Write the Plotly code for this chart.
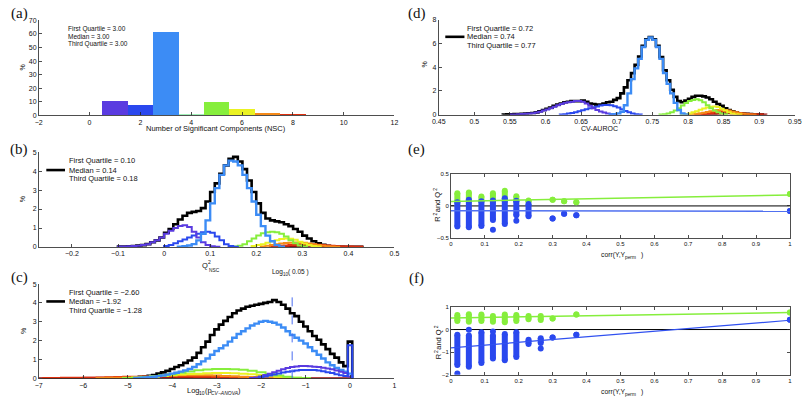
import math
import plotly.graph_objects as go

W, H = 810, 403

# ---------------- DATA ----------------
# (a) NSC histogram
a_nsc = [0, 1, 2, 3, 4, 5, 6, 7, 8, 9, 10, 11]
a_pct = [0.3, 10.9, 7.5, 61.5, 1.0, 10.1, 4.6, 1.8, 1.1, 0.35, 0.25, 0.1]

# (b) Q2_NSC histograms (bin width 0.01, start = left edge of first bin)
b_w = 0.01
b_black_start = -0.10
b_black = [0.02, 0.03, 0.04, 0.05, 0.07, 0.1, 0.15, 0.25, 0.35, 0.5, 0.75, 0.95, 1.2, 1.45, 1.65, 1.8,
           1.85, 1.9, 2.05, 2.4, 2.9, 3.35, 3.85, 4.3, 4.65, 4.75, 4.5, 4.1, 3.5, 2.9, 2.3, 1.8, 1.5, 1.4,
           1.35, 1.3, 1.2, 1.1, 0.95, 0.8, 0.6, 0.45, 0.3, 0.2, 0.12, 0.06, 0.03, 0.02, 0.01, 0.01, 0.01,
           0.01, 0.01]
b_sky_start = 0.03
b_sky = [0.02, 0.04, 0.08, 0.15, 0.35, 0.7, 1.4, 2.3, 3.1, 3.8, 4.3, 4.55, 4.5, 4.3, 3.8, 3.1, 2.4, 1.7,
         1.1, 0.6, 0.3, 0.1, 0.02]
b_purple_start = -0.10
b_purple = [0.02, 0.03, 0.04, 0.05, 0.07, 0.1, 0.15, 0.25, 0.35, 0.5, 0.7, 0.85, 1.0, 1.1, 1.15, 1.05,
            0.8, 0.5, 0.25, 0.1, 0.04, 0.01]
b_blue_start = 0.00
b_blue = [0.05, 0.1, 0.2, 0.3, 0.4, 0.5, 0.6, 0.7, 0.78, 0.8, 0.75, 0.55, 0.35, 0.15, 0.05, 0.01]
b_green_start = 0.15
b_green = [0.03, 0.07, 0.15, 0.3, 0.45, 0.6, 0.72, 0.78, 0.8, 0.78, 0.7, 0.55, 0.35, 0.2, 0.08, 0.03]
b_yellow_start = 0.19
b_yellow = [0.05, 0.1, 0.15, 0.22, 0.3, 0.36, 0.42, 0.45, 0.44, 0.38, 0.28, 0.18, 0.1, 0.05, 0.02]
b_orange_start = 0.21
b_orange = [0.03, 0.06, 0.1, 0.14, 0.18, 0.21, 0.23, 0.24, 0.24, 0.22, 0.19, 0.15, 0.11, 0.07, 0.04,
            0.02, 0.01]
b_red_start = 0.23
b_red = [0.02, 0.04, 0.06, 0.08, 0.1, 0.12, 0.14, 0.15, 0.15, 0.14, 0.12, 0.1, 0.08, 0.06, 0.04, 0.03,
         0.02, 0.02, 0.01, 0.01]
b_dred_start = 0.26
b_dred = [0.02, 0.03, 0.04, 0.05, 0.06, 0.07, 0.07, 0.06, 0.05, 0.04, 0.03, 0.02, 0.02, 0.01, 0.01, 0.01,
          0.01]

# (c) log10 p CV-ANOVA histograms
c_w = 0.1
c_black_start = -5.05
c_black = [0.02, 0.04, 0.06, 0.08, 0.1, 0.14, 0.18, 0.25, 0.32, 0.4, 0.5, 0.6, 0.7, 0.82, 0.95, 1.1, 1.35,
           1.65, 1.95, 2.3, 2.6, 2.85, 3.05, 3.25, 3.45, 3.6, 3.7, 3.8, 3.85, 3.9, 3.95, 4.0, 4.05, 4.15,
           4.05, 3.9, 3.7, 3.45, 3.3, 3.0, 2.75, 2.5, 2.25, 2.05, 1.8, 1.55, 1.3, 1.1, 0.85, 0.65, 1.95]
c_sky_start = -4.85
c_sky = [0.02, 0.03, 0.05, 0.07, 0.09, 0.12, 0.15, 0.2, 0.25, 0.3, 0.36, 0.42, 0.5, 0.6, 0.75, 0.9, 1.05,
         1.25, 1.45, 1.6, 1.75, 1.95, 2.15, 2.35, 2.5, 2.65, 2.8, 2.9, 3.0, 3.05, 3.0, 2.95, 2.85, 2.7, 2.5,
         2.3, 2.15, 2.0, 1.85, 1.65, 1.45, 1.25, 1.05, 0.85, 0.7, 0.55, 0.45, 0.35, 0.25]
c_purple_start = -2.25
c_purple = [0.02, 0.05, 0.1, 0.18, 0.25, 0.32, 0.4, 0.48, 0.55, 0.6, 0.63, 0.65, 0.65, 0.64, 0.62, 0.6,
            0.57, 0.53, 0.48, 0.42, 0.35, 0.28, 0.1]
c_blue_start = -2.05
c_blue = [0.05, 0.1, 0.15, 0.2, 0.26, 0.31, 0.35, 0.38, 0.42, 0.44, 0.45, 0.45, 0.44, 0.42, 0.38, 0.33,
          0.28, 0.22, 0.17, 0.12, 1.75]
c_w2 = 0.2
c_green_start = -5.1
c_green = [0.02, 0.04, 0.07, 0.11, 0.16, 0.22, 0.3, 0.37, 0.43, 0.47, 0.5, 0.5, 0.49, 0.46, 0.4, 0.32,
           0.23, 0.15, 0.08, 0.04, 0.02]
c_yellow_start = -5.1
c_yellow = [0.02, 0.04, 0.06, 0.09, 0.12, 0.16, 0.2, 0.23, 0.25, 0.27, 0.28, 0.28, 0.27, 0.25, 0.22, 0.18,
            0.13, 0.08, 0.05, 0.03, 0.01]
c_orange_start = -5.7
c_orange = [0.02, 0.03, 0.04, 0.05, 0.07, 0.09, 0.11, 0.13, 0.15, 0.16, 0.17, 0.17, 0.16, 0.15, 0.13,
            0.11, 0.09, 0.07, 0.05, 0.03, 0.02, 0.01]
c_red_start = -6.9
c_red = [0.02, 0.02, 0.03, 0.03, 0.04, 0.04, 0.05, 0.06, 0.07, 0.08, 0.09, 0.1, 0.1, 0.11, 0.11, 0.1,
         0.1, 0.09, 0.08, 0.07, 0.06, 0.05, 0.04, 0.03, 0.02, 0.02, 0.01, 0.01, 0.01]
c_dred_start = -7.0
c_dred = [0.01, 0.01, 0.02, 0.02, 0.02, 0.03, 0.03, 0.03, 0.04, 0.04, 0.04, 0.05, 0.05, 0.05, 0.05, 0.05,
          0.05, 0.05, 0.05, 0.04, 0.04, 0.04, 0.03, 0.03, 0.03, 0.02, 0.02, 0.02, 0.02, 0.01, 0.01, 0.01,
          0.01, 0.01, 0.01]
c_alpha = 0.05

# (d) CV-AUROC histograms (bin width 0.005)
d_w = 0.005
d_black_start = 0.540
d_black = [0.02, 0.03, 0.04, 0.05, 0.06, 0.08, 0.1, 0.12, 0.15, 0.2, 0.3, 0.4, 0.5, 0.6, 0.75, 0.85, 0.95,
           1.05, 1.1, 1.15, 1.15, 1.15, 1.2, 1.1, 0.95, 0.9, 0.85, 0.85, 0.95, 1.05, 1.1, 1.25, 1.4, 1.8,
           2.3, 2.9, 3.5, 4.2, 4.9, 5.8, 6.35, 6.55, 6.35, 5.8, 4.85, 3.75, 2.9, 2.1, 1.5, 1.15, 1.05, 1.2,
           1.35, 1.5, 1.6, 1.6, 1.55, 1.45, 1.3, 1.1, 0.9, 0.75, 0.55, 0.4, 0.28, 0.2, 0.13, 0.1, 0.07,
           0.05, 0.03, 0.02, 0.01]
d_sky_start = 0.690
d_sky = [0.02, 0.05, 0.1, 0.25, 0.8, 1.8, 3.0, 3.9, 4.7, 5.7, 6.3, 6.5, 6.3, 5.7, 4.7, 3.5, 2.6, 1.8, 1.0,
         0.4, 0.1, 0.02]
d_purple_start = 0.550
d_purple = [0.02, 0.03, 0.04, 0.06, 0.08, 0.1, 0.13, 0.18, 0.25, 0.35, 0.45, 0.55, 0.68, 0.8, 0.9, 1.0,
            1.05, 1.1, 1.15, 1.15, 1.1, 0.95, 0.75, 0.55, 0.4, 0.28, 0.18, 0.1, 0.05, 0.02]
d_blue_start = 0.620
d_blue = [0.02, 0.05, 0.1, 0.15, 0.22, 0.3, 0.38, 0.46, 0.55, 0.63, 0.7, 0.77, 0.82, 0.82, 0.8, 0.72, 0.6,
          0.46, 0.32, 0.2, 0.11, 0.05, 0.02]
d_green_start = 0.760
d_green = [0.02, 0.05, 0.1, 0.2, 0.35, 0.55, 0.78, 0.98, 1.15, 1.25, 1.3, 1.22, 1.05, 0.8, 0.55, 0.35, 0.2,
           0.1, 0.04]
d_yellow_start = 0.790
d_yellow = [0.02, 0.05, 0.1, 0.2, 0.3, 0.42, 0.52, 0.6, 0.68, 0.7, 0.65, 0.5, 0.35, 0.2, 0.1, 0.04, 0.02]
d_orange_start = 0.800
d_orange = [0.02, 0.05, 0.08, 0.12, 0.17, 0.23, 0.3, 0.36, 0.4, 0.42, 0.4, 0.35, 0.28, 0.2, 0.13, 0.08,
            0.04, 0.02, 0.01]
d_red_start = 0.810
d_red = [0.02, 0.04, 0.07, 0.1, 0.14, 0.18, 0.22, 0.25, 0.27, 0.26, 0.23, 0.19, 0.15, 0.11, 0.08, 0.05,
         0.03, 0.02, 0.01]
d_dred_start = 0.820
d_dred = [0.02, 0.03, 0.05, 0.07, 0.09, 0.11, 0.12, 0.12, 0.11, 0.1, 0.08, 0.06, 0.05, 0.04, 0.03, 0.02,
          0.01, 0.01]

# (e) permutation test, R2 (green) and Q2 (blue) columns
e_x = [0.019, 0.053, 0.09, 0.124, 0.159, 0.193, 0.229, 0.30, 0.334, 0.37, 1.0]
e_r2_lo = [0.074, 0.074, 0.074, 0.074, 0.074, 0.074, 0.06, 0.094, 0.074, 0.058, 0.185]
e_r2_hi = [0.195, 0.21, 0.145, 0.195, 0.236, 0.15, 0.084, 0.094, 0.074, 0.058, 0.185]
e_q2_lo = [-0.32, -0.33, -0.31, -0.22, -0.28, -0.145, -0.16, -0.195, -0.12, -0.145, -0.08]
e_q2_hi = [0.058, 0.094, 0.074, 0.084, 0.12, 0.08, 0.03, -0.195, -0.12, -0.145, -0.08]
e_q2_out_x = [0.124, 0.193]
e_q2_out_y = [-0.37, -0.23]
e_fit_x = [0.0, 1.0]
e_r2_fit = [0.07, 0.17]
e_q2_fit = [-0.075, -0.082]

# (f)
f_x = [0.019, 0.053, 0.09, 0.124, 0.159, 0.193, 0.229, 0.265, 0.30, 0.37, 1.0]
f_r2_lo = [0.38, 0.35, 0.38, 0.35, 0.32, 0.38, 0.45, 0.42, 0.49, 0.67, 0.75]
f_r2_hi = [0.64, 0.68, 0.67, 0.6, 0.67, 0.64, 0.6, 0.6, 0.49, 0.67, 0.75]
f_q2_lo = [-1.57, -1.65, -1.48, -1.28, -1.36, -1.22, -0.64, -0.6, -0.35, -0.23, 0.43]
f_q2_hi = [-0.23, -0.26, -0.12, -0.26, -0.2, -0.12, -0.45, -0.38, -0.35, -0.23, 0.43]
f_q2_out_x = [0.019, 0.053, 0.124, 0.265]
f_q2_out_y = [-1.94, -0.01, -0.09, -0.84]
f_fit_x = [0.0, 1.0]
f_r2_fit = [0.51, 0.75]
f_q2_fit = [-0.81, 0.41]

# ---------------- STYLE ----------------
C_PURPLE = "#5a3be0"
C_BLUE = "#2a48ee"
C_SKY = "#3c8cf5"
C_PALE = "#a0f0b8"
C_GREEN = "#86ee3c"
C_YELLOW = "#eaf222"
C_ORANGE = "#f58a18"
C_RED = "#e0300e"
C_DRED = "#9a0c0c"
a_colors = ["#f0a040", C_PURPLE, C_BLUE, C_SKY, C_PALE, C_GREEN, C_YELLOW, C_ORANGE, C_RED, C_DRED,
            "#d07060", "#c0a040"]
FONT = "Liberation Sans, Arial, Helvetica, sans-serif"
SERIF = "Liberation Serif, Times New Roman, serif"


def stairs(start, width, vals):
    n = len(vals)
    xs = [start] + [start + i * width for i in range(n)] + [start + n * width]
    ys = [0] + list(vals) + [0]
    return xs, ys


fig = go.Figure()


def add_stairs(start, width, vals, color, lw, xa, ya):
    xs, ys = stairs(start, width, vals)
    fig.add_trace(go.Scatter(x=xs, y=ys, mode="lines", line=dict(color=color, width=lw, shape="hv"),
                             xaxis=xa, yaxis=ya, hoverinfo="skip"))


# (a)
fig.add_trace(go.Bar(x=a_nsc, y=a_pct, width=1, marker=dict(color=a_colors, line=dict(width=0)),
                     xaxis="x", yaxis="y"))

# (b)
add_stairs(b_black_start, b_w, b_black, "black", 2.6, "x2", "y2")
add_stairs(b_dred_start, b_w, b_dred, C_DRED, 2, "x2", "y2")
add_stairs(b_red_start, b_w, b_red, C_RED, 2, "x2", "y2")
add_stairs(b_orange_start, b_w, b_orange, C_ORANGE, 2, "x2", "y2")
add_stairs(b_yellow_start, b_w, b_yellow, C_YELLOW, 2, "x2", "y2")
add_stairs(b_green_start, b_w, b_green, C_GREEN, 2, "x2", "y2")
add_stairs(b_blue_start, b_w, b_blue, C_BLUE, 2, "x2", "y2")
add_stairs(b_purple_start, b_w, b_purple, C_PURPLE, 2, "x2", "y2")
add_stairs(b_sky_start, b_w, b_sky, C_SKY, 2.4, "x2", "y2")

# (c)
add_stairs(c_black_start, c_w, c_black, "black", 2.6, "x3", "y3")
add_stairs(c_dred_start, c_w2, c_dred, C_DRED, 2, "x3", "y3")
add_stairs(c_red_start, c_w2, c_red, C_RED, 2, "x3", "y3")
add_stairs(c_orange_start, c_w2, c_orange, C_ORANGE, 2, "x3", "y3")
add_stairs(c_yellow_start, c_w2, c_yellow, C_YELLOW, 2, "x3", "y3")
add_stairs(c_green_start, c_w2, c_green, C_GREEN, 2, "x3", "y3")
add_stairs(c_sky_start, c_w, c_sky, C_SKY, 2.4, "x3", "y3")
add_stairs(c_purple_start, c_w, c_purple, C_PURPLE, 2, "x3", "y3")
add_stairs(c_blue_start, c_w, c_blue, C_BLUE, 2, "x3", "y3")
c_thr = math.log10(c_alpha)
fig.add_trace(go.Scatter(x=[c_thr, c_thr], y=[0, 4.75], mode="lines",
                         line=dict(color="#4a6cf0", width=1, dash="dash"), xaxis="x3", yaxis="y3"))

# (d)
add_stairs(d_black_start, d_w, d_black, "black", 2.6, "x4", "y4")
add_stairs(d_dred_start, d_w, d_dred, C_DRED, 2, "x4", "y4")
add_stairs(d_red_start, d_w, d_red, C_RED, 2, "x4", "y4")
add_stairs(d_orange_start, d_w, d_orange, C_ORANGE, 2, "x4", "y4")
add_stairs(d_yellow_start, d_w, d_yellow, C_YELLOW, 2, "x4", "y4")
add_stairs(d_green_start, d_w, d_green, C_GREEN, 2, "x4", "y4")
add_stairs(d_blue_start, d_w, d_blue, C_BLUE, 2, "x4", "y4")
add_stairs(d_purple_start, d_w, d_purple, C_PURPLE, 2, "x4", "y4")
add_stairs(d_sky_start, d_w, d_sky, C_SKY, 2.4, "x4", "y4")


def add_columns(xs, lo, hi, color, xa, ya):
    X, Y = [], []
    for x, a, b in zip(xs, lo, hi):
        X += [x, x, None]
        Y += [a, b, None]
    fig.add_trace(go.Scatter(x=X, y=Y, mode="lines", line=dict(color=color, width=6),
                             xaxis=xa, yaxis=ya, hoverinfo="skip"))
    fig.add_trace(go.Scatter(x=list(xs) + list(xs), y=list(lo) + list(hi), mode="markers",
                             marker=dict(color=color, size=6, line=dict(width=0)), xaxis=xa, yaxis=ya))


# (e)
fig.add_trace(go.Scatter(x=e_fit_x, y=[0, 0], mode="lines", line=dict(color="black", width=1),
                         xaxis="x5", yaxis="y5"))
add_columns(e_x, e_r2_lo, e_r2_hi, C_GREEN, "x5", "y5")
add_columns(e_x, e_q2_lo, e_q2_hi, C_BLUE, "x5", "y5")
fig.add_trace(go.Scatter(x=e_q2_out_x, y=e_q2_out_y, mode="markers", marker=dict(color=C_BLUE, size=6),
                         xaxis="x5", yaxis="y5"))
fig.add_trace(go.Scatter(x=e_fit_x, y=e_r2_fit, mode="lines", line=dict(color=C_GREEN, width=1.5),
                         xaxis="x5", yaxis="y5"))
fig.add_trace(go.Scatter(x=e_fit_x, y=e_q2_fit, mode="lines", line=dict(color="#5070f0", width=1.5),
                         xaxis="x5", yaxis="y5"))

# (f)
fig.add_trace(go.Scatter(x=f_fit_x, y=[0, 0], mode="lines", line=dict(color="black", width=1),
                         xaxis="x6", yaxis="y6"))
add_columns(f_x, f_r2_lo, f_r2_hi, C_GREEN, "x6", "y6")
add_columns(f_x, f_q2_lo, f_q2_hi, C_BLUE, "x6", "y6")
fig.add_trace(go.Scatter(x=f_q2_out_x, y=f_q2_out_y, mode="markers", marker=dict(color=C_BLUE, size=6),
                         xaxis="x6", yaxis="y6"))
fig.add_trace(go.Scatter(x=f_fit_x, y=f_r2_fit, mode="lines", line=dict(color=C_GREEN, width=1.5),
                         xaxis="x6", yaxis="y6"))
fig.add_trace(go.Scatter(x=f_fit_x, y=f_q2_fit, mode="lines", line=dict(color="#3050f0", width=1.2),
                         xaxis="x6", yaxis="y6"))


# ---------------- LAYOUT ----------------
def px_x(p):
    return p / W


def px_y(p):
    return 1 - p / H


def axis(dom, rng, dtick, anchor, mirror=False, fs=7, tick0=0):
    return dict(domain=dom, range=rng, dtick=dtick, tick0=tick0, anchor=anchor, showline=True,
                linecolor="#222", linewidth=0.8, ticks="inside", ticklen=3, tickwidth=0.8,
                tickcolor="#222", showgrid=False, zeroline=False, mirror=("ticks" if mirror else False),
                tickfont=dict(size=fs, color="#111", family=FONT), fixedrange=True,
                ticklabeloverflow="allow")


L_X = [px_x(32.3), px_x(394.3)]
R_X = [px_x(439.3), px_x(801.7)]
E_X = [px_x(451.7), px_x(796.7)]

layout = dict(
    width=W, height=H, margin=dict(l=0, r=0, t=0, b=0), paper_bgcolor="white", plot_bgcolor="white",
    showlegend=False, font=dict(family=FONT, color="#111"), bargap=0, hovermode=False,
    xaxis=axis(L_X, [-2, 12], 2, "y"),
    yaxis=axis([px_y(113.3), px_y(16.7)], [0, 70], 10, "x"),
    xaxis2=axis(L_X, [-0.272, 0.5], 0.1, "y2"),
    yaxis2=axis([px_y(247.3), px_y(150.7)], [0, 5], 1, "x2"),
    xaxis3=axis(L_X, [-7, 1], 1, "y3"),
    yaxis3=axis([px_y(381), px_y(285)], [0, 5], 1, "x3"),
    xaxis4=axis(R_X, [0.45, 0.95], 0.05, "y4"),
    yaxis4=axis([px_y(112.7), px_y(16)], [0, 8], 2, "x4"),
    xaxis5=axis(E_X, [0, 1], 0.1, "y5", True, 6),
    yaxis5=axis([px_y(238.3), px_y(172.7)], [-0.5, 0.5], 0.5, "x5", True, 6),
    xaxis6=axis(E_X, [0, 1], 0.1, "y6", True, 6),
    yaxis6=axis([px_y(377.3), px_y(308.3)], [-2, 1], 1, "x6", True, 6),
)
fig.update_layout(**layout)

ann = []


def text(x, y, s, size=7, angle=0, xanchor="center", family=FONT):
    ann.append(dict(x=px_x(x), y=px_y(y), xref="paper", yref="paper", text=s, showarrow=False,
                    xanchor=xanchor, yanchor="middle", textangle=angle,
                    font=dict(size=size, family=family, color="#111")))


text(12.5, 10, "(a)", 15, family=SERIF)
text(12.5, 148, "(b)", 15, family=SERIF)
text(12.5, 278, "(c)", 15, family=SERIF)
text(417, 10, "(d)", 15, family=SERIF)
text(417, 148, "(e)", 15, family=SERIF)
text(417, 279, "(f)", 15, family=SERIF)

# axis titles (sub/superscripts placed as separate small texts)
text(213, 127, "Number of Significant Components (NSC)", 7.5)
text(16, 65, "%", 7, -90)
text(16, 199, "%", 7, -90)
text(16, 333, "%", 7, -90)
text(425, 62, "%", 7, -90)
# Q^2_NSC
text(201, 266.5, "Q", 7.5)
text(206.5, 262.5, "2", 5)
text(211, 271, "NSC", 4.8)
# Log10(p_CV-ANOVA)
text(181, 393, "Log", 7.5, xanchor="left")
text(193.6, 395.5, "10", 5, xanchor="left")
text(199.2, 393, "(p", 7.5, xanchor="left")
text(205.9, 395.5, "<i>CV−ANOVA</i>", 5, xanchor="left")
text(233.2, 393, ")", 7.5, xanchor="left")
# Log10 ( 0.05 )
text(268, 272.5, "Log", 6.5, xanchor="left")
text(278.8, 275, "10", 4.5, xanchor="left")
text(283.8, 272.5, "( 0.05 )", 6.5, xanchor="left")
text(603, 127, "CV-AUROC", 7)
# R^2 and Q^2 (rotated), panels e and f
for (xc, dy) in [(438, 0), (439, 140)]:
    text(xc, 218.0 + dy, "R", 7.5, -90)
    text(xc - 2.2, 213.9 + dy, "2", 5, -90)
    text(xc, 201.3 + dy, "and Q", 7.5, -90)
    text(xc - 2.2, 188.7 + dy, "2", 5, -90)
# corr(Y,Y_perm)
for yc in (255, 395):
    text(602, yc, "corr(Y,Y", 6.8, xanchor="left")
    text(627, yc + 2.5, "perm", 4.8, xanchor="left")
    text(643, yc, ")", 6.8, xanchor="left")

# quartile texts
for (x0, ys, vals, fs) in [
    (60, (25, 33.4, 41.2), ("3.00", "3.00", "3.00"), 6.5),
    (61, (159.3, 169, 177.7), ("0.10", "0.14", "0.18"), 7.5),
    (61, (293.3, 302.7, 312.3), ("−2.60", "−1.92", "−1.28"), 7.5),
    (466.5, (25, 33.4, 42.5), ("0.72", "0.74", "0.77"), 7.5),
]:
    text(x0, ys[0], "First Quartile = " + vals[0], fs, xanchor="left")
    text(x0, ys[1], "Median = " + vals[1], fs, xanchor="left")
    text(x0, ys[2], "Third Quartile = " + vals[2], fs, xanchor="left")

fig.update_layout(annotations=ann)

shapes = []
for (x0, x1, y) in [(40, 59, 169), (40, 59, 302.7), (446, 465.5, 33.4)]:
    shapes.append(dict(type="line", xref="paper", yref="paper", x0=px_x(x0), x1=px_x(x1),
                       y0=px_y(y), y1=px_y(y), line=dict(color="black", width=2.6)))
fig.update_layout(shapes=shapes)

# remove the browser's default 8px body margin so the figure sits at the page origin
fig.write_html("out.html", config={"displayModeBar": False, "staticPlot": True},
               post_script="document.body.style.margin='0px';"
                           "document.body.style.overflow='hidden';")
